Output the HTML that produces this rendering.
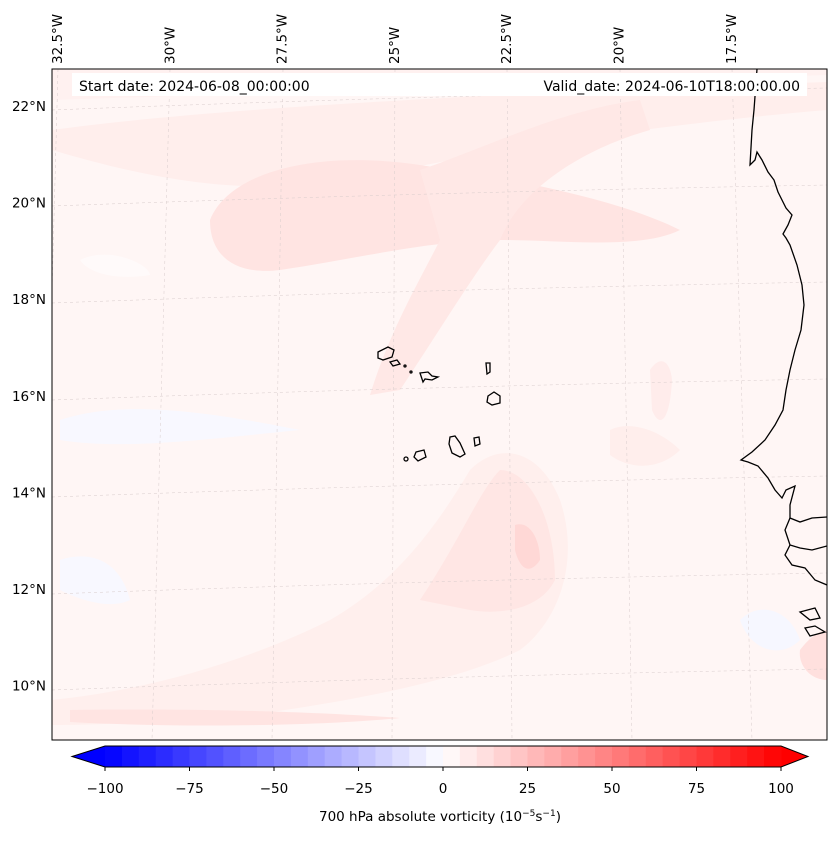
<!DOCTYPE html>
<html><head><meta charset="utf-8">
<style>
body{margin:0;background:#fff;font-family:"Liberation Sans","DejaVu Sans",sans-serif;}
svg text{font-family:"DejaVu Sans","Liberation Sans",sans-serif;font-size:13.5px;fill:#000;}
</style></head>
<body>
<svg id="chart" width="837" height="839" xmlns="http://www.w3.org/2000/svg">
<rect x="0" y="0" width="837" height="839" fill="#fff"/>
<g>
<clipPath id="mc"><rect x="52" y="69" width="775" height="671"/></clipPath>
<g clip-path="url(#mc)">
<rect x="52" y="69" width="775" height="671" fill="#fff6f5"/>
<g>
<path d="M52 100 L827 75 L827 69 L52 69Z" fill="#fff1f0"/>
<path d="M52 130 C200 110 400 100 600 90 L827 82 L827 110 C650 125 500 150 400 170 C300 190 220 200 52 150Z" fill="#ffeeec"/>
<path d="M210 220 C230 170 320 150 420 165 C520 180 620 200 680 230 C640 250 560 240 500 240 C430 240 350 260 280 270 C240 275 210 260 210 220Z" fill="#ffe4e2"/>
<path d="M420 170 C480 150 560 110 640 100 L650 130 C580 150 520 190 500 240 C470 280 440 330 400 390 L370 395 C390 330 420 280 440 240Z" fill="#ffe8e6"/>
<path d="M52 700 C150 690 250 660 330 620 C400 580 440 520 470 470 C500 440 540 450 560 500 C580 560 560 620 520 650 C460 680 360 700 250 715 C160 722 100 725 52 725Z" fill="#ffefed"/>
<path d="M420 600 C460 540 480 490 500 470 C530 470 555 520 555 580 C540 610 500 615 470 610Z" fill="#ffe6e4"/>
<path d="M515 525 C530 520 540 540 540 560 C530 575 520 570 515 550Z" fill="#ffd8d6"/>
<path d="M70 710 C200 708 320 712 400 718 C320 726 180 728 70 722Z" fill="#ffe4e2"/>
<path d="M800 650 C815 630 827 630 827 630 L827 680 C810 680 798 665 800 650Z" fill="#ffe0de"/>
<path d="M610 430 C630 420 660 430 680 450 C660 470 630 470 610 455Z" fill="#ffeeec"/>
<path d="M650 370 C660 355 670 360 672 380 C670 420 660 430 652 410Z" fill="#ffeceb"/>
<path d="M80 260 C110 245 150 265 150 275 C120 280 90 275 80 260Z" fill="#fffafa"/>
<path d="M60 420 C120 400 200 410 300 430 C200 440 120 450 60 440Z" fill="#f8f8ff"/>
<path d="M60 560 C90 550 120 560 130 600 C110 610 80 600 60 590Z" fill="#f8f8ff"/>
<path d="M740 620 C760 600 790 610 800 640 C780 660 750 650 740 620Z" fill="#f6f7ff"/>
</g>
<g stroke="#d8cccc" stroke-width="0.5" stroke-dasharray="3,3" fill="none">
<path d="M52 110 Q440 95 827 88"/><path d="M52 206 Q440 192 827 185"/><path d="M52 303 Q440 289 827 282"/>
<path d="M52 400 Q440 386 827 379"/><path d="M52 497 Q440 483 827 476"/><path d="M52 594 Q440 580 827 573"/><path d="M52 690 Q440 676 827 669"/>
<path d="M58 69 L40 740"/><path d="M170 69 L152 740"/><path d="M283 69 L272 740"/><path d="M395 69 L392 740"/>
<path d="M507 69 L512 740"/><path d="M620 69 L632 740"/><path d="M732 69 L752 740"/>
</g>
<g stroke="#000" stroke-width="1.3" fill="none">
<path d="M757 69 L754 110 L752 130 L750 165 L755 160 L757 152 L762 160 L768 172 L774 180 L778 192 L786 208 L792 215 L788 225 L783 234 L786 238 L790 245 L797 265 L802 285 L804 305 L801 330 L795 350 L790 370 L786 390 L783 410 L775 425 L765 440 L752 452 L741 460 L748 462 L758 466 L768 478 L775 490 L782 498 L786 490 L795 486 L790 505 L790 518 L800 522 L812 518 L827 517"/>
<path d="M790 518 L785 530 L790 545 L800 548 L812 550 L827 546"/>
<path d="M790 545 L785 555 L792 565 L805 568 L815 580 L827 585"/>
<path d="M800 612 L815 608 L820 618 L810 620Z"/><path d="M805 628 L815 626 L825 632 L810 636Z"/>
</g>
<g stroke="#000" stroke-width="1.3" fill="none">
<path d="M378 352 L388 347 L394 350 L392 357 L383 360 L378 358Z"/>
<path d="M390 362 L397 360 L400 364 L393 366Z"/>
<circle cx="405" cy="366" r="1"/><circle cx="411" cy="372" r="1"/>
<path d="M420 373 L428 372 L432 376 L438 377 L432 380 L425 379 L423 382Z"/>
<path d="M486 363 L490 363 L490 372 L487 374Z"/>
<path d="M488 396 L494 392 L500 396 L500 403 L492 405 L487 402Z"/>
<path d="M450 437 L455 436 L460 443 L465 454 L460 457 L452 453 L449 444Z"/>
<path d="M474 438 L479 437 L480 444 L475 446Z"/>
<path d="M416 452 L424 450 L426 457 L418 461 L414 457Z"/>
<circle cx="406" cy="459" r="2"/>
</g>
</g>
<rect x="52" y="69" width="775" height="671" fill="none" stroke="#000" stroke-width="1"/>
<rect x="72" y="73" width="735" height="23" fill="#fff"/>
<text x="79" y="91" style="font-size:14px">Start date: 2024-06-08_00:00:00</text>
<text x="800" y="91" text-anchor="end" style="font-size:14px">Valid_date: 2024-06-10T18:00:00.00</text>
</g>
<g id="lonlabels"></g>
<g id="latlabels"></g>
<g id="cbar"></g>
<text x="440" y="821" text-anchor="middle">700 hPa absolute vorticity (10<tspan dy="-5" font-size="9">−5</tspan><tspan dy="5">s</tspan><tspan dy="-5" font-size="9">−1</tspan><tspan dy="5">)</tspan></text>
</svg>
<script>
const lonTicks=["32.5°W","30°W","27.5°W","25°W","22.5°W","20°W","17.5°W"];
const lonValues=[-32.5,-30,-27.5,-25,-22.5,-20,-17.5];
const latTicks=["22°N","20°N","18°N","16°N","14°N","12°N","10°N"];
const latValues=[22,20,18,16,14,12,10];
const cbarLevels=[-100,-95,-90,-85,-80,-75,-70,-65,-60,-55,-50,-45,-40,-35,-30,-25,-20,-15,-10,-5,0,5,10,15,20,25,30,35,40,45,50,55,60,65,70,75,80,85,90,95,100];
const cbarTicks=[-100,-75,-50,-25,0,25,50,75,100];
const NS="http://www.w3.org/2000/svg";
function mk(t,a,p){const e=document.createElementNS(NS,t);for(const k in a)e.setAttribute(k,a[k]);p.appendChild(e);return e;}
const lonX=v=>58+(v+32.5)*(112.3/2.5);
const latY=v=>110+(22-v)*48.3;
const cbX=v=>105+(v+100)*(676/200);
function bwr(v){const t=(v+100)/200;let r,g,b;if(t<0.5){const s=t/0.5;r=255*s;g=255*s;b=255;}else{const s=(t-0.5)/0.5;r=255;g=255*(1-s);b=255*(1-s);}return `rgb(${r|0},${g|0},${b|0})`;}
const lg=document.getElementById('lonlabels');
lonTicks.forEach((s,i)=>{const x=lonX(lonValues[i])+4;const t=mk('text',{x:x,y:64,transform:`rotate(-90 ${x} 64)`},lg);t.textContent=s;

});
const ag=document.getElementById('latlabels');
latTicks.forEach((s,i)=>{const t=mk('text',{x:46,y:latY(latValues[i])+1,'text-anchor':'end'},ag);t.textContent=s;

});
const cg=document.getElementById('cbar');
const y0=746,y1=767;
mk('polygon',{points:`72,${(y0+y1)/2} ${cbX(-100)},${y0} ${cbX(-100)},${y1}`,fill:bwr(-100)},cg);
mk('polygon',{points:`808,${(y0+y1)/2} ${cbX(100)},${y0} ${cbX(100)},${y1}`,fill:bwr(100)},cg);
for(let i=0;i<cbarLevels.length-1;i++){const a=cbarLevels[i],b=cbarLevels[i+1];
const r=mk('rect',{x:cbX(a),y:y0,width:cbX(b)-cbX(a)+0.5,height:y1-y0,fill:bwr((a+b)/2)},cg);

}
mk('polygon',{points:`72,${(y0+y1)/2} ${cbX(-100)},${y0} ${cbX(100)},${y0} 808,${(y0+y1)/2} ${cbX(100)},${y1} ${cbX(-100)},${y1}`,fill:'none',stroke:'#000','stroke-width':1},cg);
cbarTicks.forEach(v=>{const x=cbX(v);mk('line',{x1:x,x2:x,y1:y1,y2:y1+4,stroke:'#000'},cg);
const t=mk('text',{x:x,y:793,'text-anchor':'middle'},cg);t.textContent=(v<0?'−':'')+Math.abs(v);

});
</script>
</body></html>
